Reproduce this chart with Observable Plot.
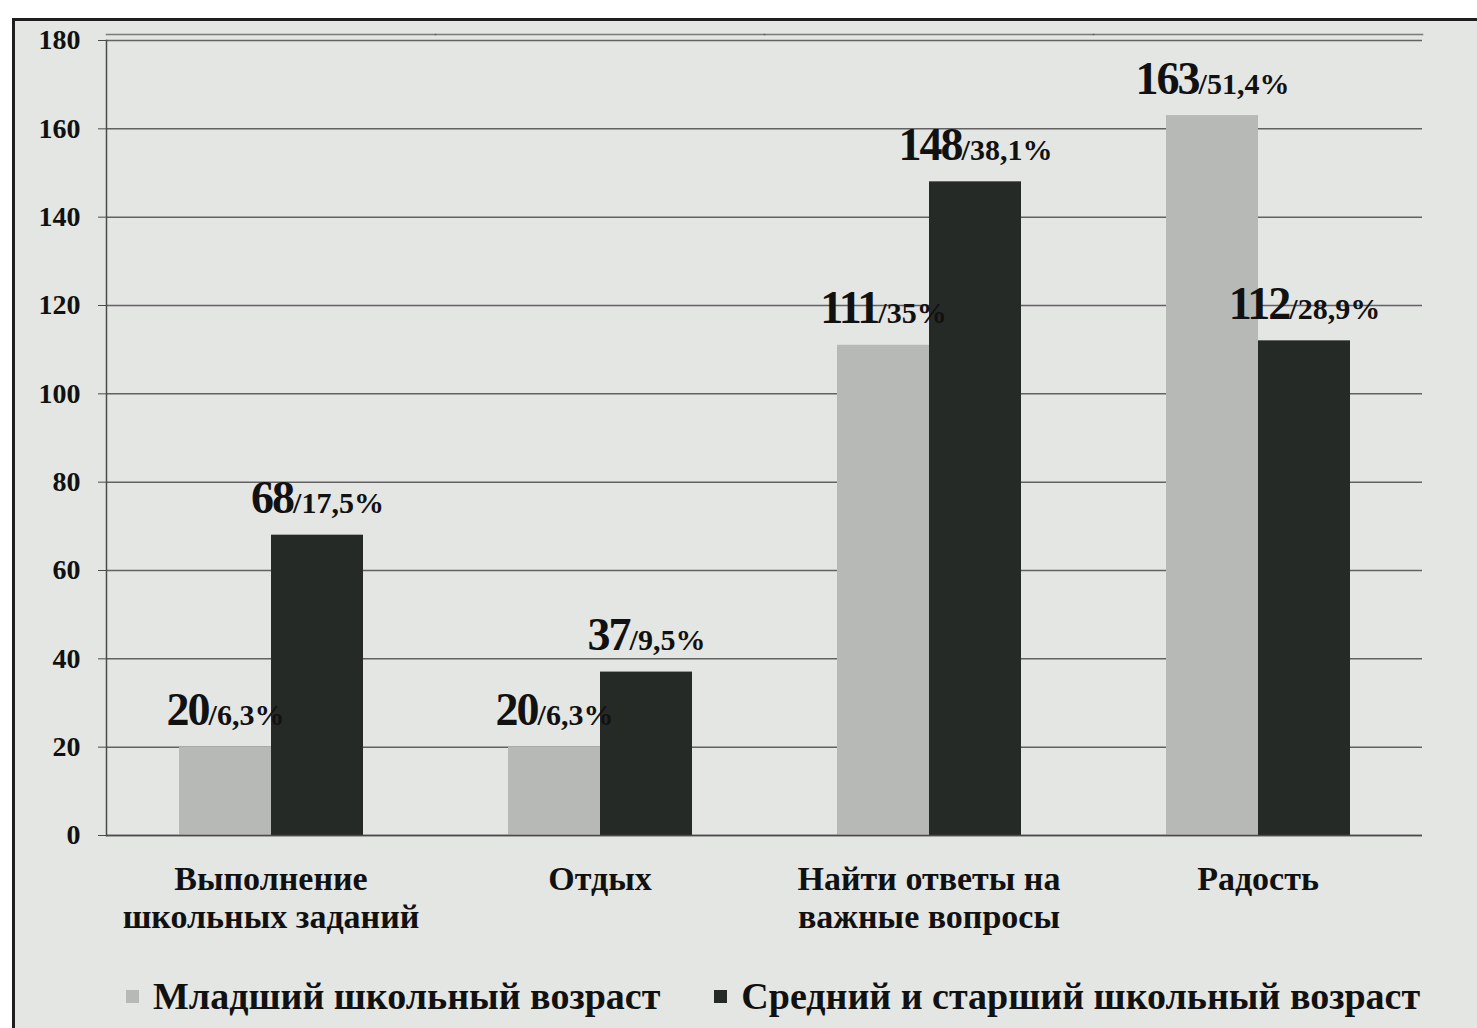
<!DOCTYPE html>
<html><head><meta charset="utf-8">
<script src="https://cdn.jsdelivr.net/npm/d3@7"></script>
<script src="https://cdn.jsdelivr.net/npm/@observablehq/plot@0.6"></script>
<style>
html,body{margin:0;padding:0;background:#ffffff;width:1477px;height:1028px;overflow:hidden;}
#frame{position:absolute;left:12px;top:18px;right:0;bottom:0;border-left:3px solid #1e1e1e;border-top:3px solid #1e1e1e;background:#e4e6e4;}
#chart{position:absolute;left:0;top:0;}
#legend{position:absolute;left:126px;top:974px;display:flex;align-items:center;font-family:'Liberation Serif',serif;font-weight:bold;font-size:38px;color:#111;white-space:nowrap;}
#legend .sw{display:inline-block;width:13px;height:13px;margin-right:14px;}
#legend .item{display:flex;align-items:center;margin-right:54px;}
</style></head>
<body>
<div id="frame"></div>
<div id="chart"></div>
<div id="legend"></div>
<script>
const categories = ["Выполнение\nшкольных заданий", "Отдых", "Найти ответы на\nважные вопросы", "Радость"];
const seriesNames = ["Младший школьный возраст", "Средний и старший школьный возраст"];
const youngValues = [20, 20, 111, 163];
const olderValues = [68, 37, 148, 112];
const youngPercents = ["6,3%", "6,3%", "35%", "51,4%"];
const olderPercents = ["17,5%", "9,5%", "38,1%", "28,9%"];
const yTicks = [0, 20, 40, 60, 80, 100, 120, 140, 160, 180];
const colors = ["#b7b9b6", "#262a26"];

const rows = [];
categories.forEach((c, i) => {
  rows.push({category: c, series: seriesNames[0], value: youngValues[i], label: youngValues[i] + "/" + youngPercents[i]});
  rows.push({category: c, series: seriesNames[1], value: olderValues[i], label: olderValues[i] + "/" + olderPercents[i]});
});

const plot = Plot.plot({
  width: 1477, height: 960,
  marginLeft: 105, marginRight: 55, marginTop: 40, marginBottom: 125,
  style: {background: "transparent", fontFamily: "'Liberation Serif', serif", fontWeight: "bold", color: "#111", overflow: "visible"},
  fx: {domain: categories, padding: 0, label: null},
  x: {domain: seriesNames, paddingInner: 0, paddingOuter: 0.77, axis: null},
  y: {domain: [0, 180], label: null},
  color: {domain: seriesNames, range: colors},
  marks: [
    Plot.gridY(yTicks, {stroke: "#4a4a4a", strokeOpacity: 0.85, strokeWidth: 1.5}),
    Plot.frame({anchor: "top", dy: -6, stroke: "#4a4a4a", strokeOpacity: 0.7, strokeWidth: 1.5}),
    Plot.barY(rows, {fx: "category", x: "series", y: "value", fill: "series"}),
    Plot.ruleY([0], {stroke: "#4a4a4a", strokeWidth: 1.5}),
    Plot.frame({anchor: "left", facetAnchor: "left", stroke: "#4a4a4a", strokeWidth: 1.5}),
    Plot.text(rows, {fx: "category", x: "series", y: "value", text: "label", lineAnchor: "bottom", dy: -22, fontSize: 46, fill: "#111", fontWeight: "bold"}),
    Plot.axisY({ticks: yTicks, tickSize: 8, tickPadding: 18, fontSize: 28, stroke: "#4a4a4a", fill: "#111"}),
    Plot.axisFx({anchor: "bottom", tickSize: 0, tickPadding: 27, fontSize: 34, lineHeight: 1.12, fill: "#111"})
  ]
});

d3.select(plot).selectAll('g[aria-label="text"] text').each(function() {
  const s = this.textContent;
  const i = s.indexOf("/");
  const t = d3.select(this);
  t.text(null);
  t.append("tspan").attr("letter-spacing", "-2").text(s.slice(0, i));
  t.append("tspan").attr("font-size", 30).text(s.slice(i));
});

document.getElementById("chart").appendChild(plot);

const legend = document.getElementById("legend");
seriesNames.forEach((n, i) => {
  const item = document.createElement("div");
  item.className = "item";
  const sw = document.createElement("span");
  sw.className = "sw";
  sw.style.background = colors[i];
  item.appendChild(sw);
  item.appendChild(document.createTextNode(n));
  legend.appendChild(item);
});
</script>
</body></html>
